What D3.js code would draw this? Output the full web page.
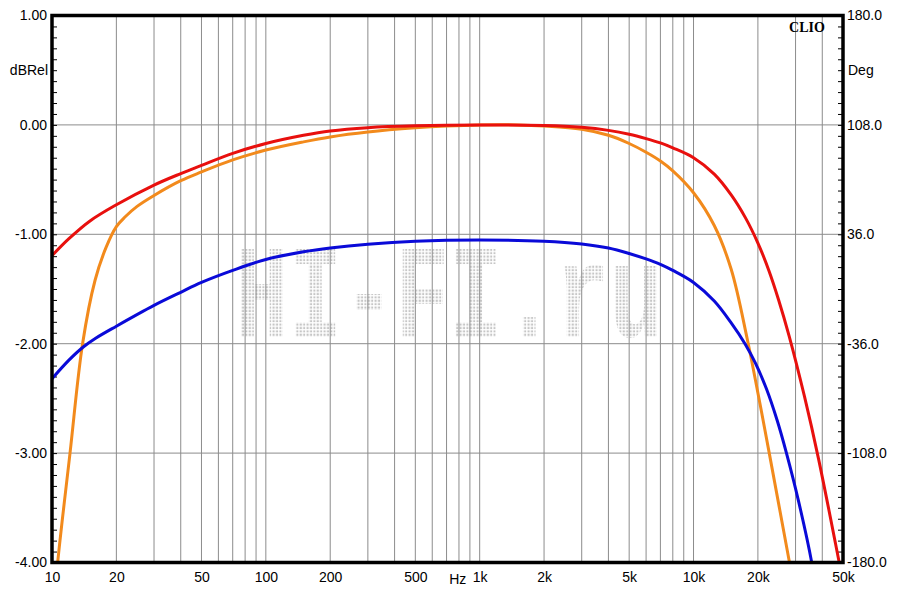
<!DOCTYPE html>
<html>
<head>
<meta charset="utf-8">
<script src="https://cdn.jsdelivr.net/npm/d3@7"></script>
<style>
  body { margin: 0; background: #fff; }
  text { font-family: "Liberation Sans", Arial, sans-serif; }
</style>
</head>
<body>
<div id="chart"></div>
<script>
// frequency response, three curves (dB rel. to 1 kHz)
let redFreq = [10, 12, 15, 20, 30, 40, 50, 70, 100, 150, 200, 300, 500, 1000, 2000, 3000, 4000, 5000, 6000, 7000, 8000, 10000, 12500, 15000, 17500, 20000, 22500, 25000, 28000, 33000, 38400, 48000, 52000];
let redDb   = [-1.195, -1.04, -0.88, -0.73, -0.55, -0.445, -0.37, -0.26, -0.17, -0.095, -0.055, -0.025, -0.008, 0, -0.005, -0.022, -0.05, -0.085, -0.125, -0.165, -0.21, -0.30, -0.45, -0.64, -0.85, -1.08, -1.33, -1.6, -1.93, -2.48, -3.05, -4.0, -4.35];

let orangeFreq = [10, 10.63, 12.14, 13.9, 15.9, 17.9, 20, 22, 25, 30, 40, 50, 70, 100, 150, 200, 300, 500, 700, 1000, 1500, 2000, 3000, 4000, 5000, 6000, 7000, 8000, 10000, 12500, 15000, 17800, 20000, 22600, 28100, 30000];
let orangeDb   = [-4.6, -4.0, -3.0, -2.0, -1.42, -1.12, -0.93, -0.84, -0.745, -0.645, -0.51, -0.43, -0.32, -0.23, -0.155, -0.11, -0.065, -0.027, -0.01, 0, 0, -0.01, -0.04, -0.095, -0.17, -0.25, -0.33, -0.42, -0.62, -0.92, -1.32, -1.95, -2.45, -3.0, -4.0, -4.3];

let blueFreq = [10, 12, 14, 16, 20, 30, 40, 50, 70, 100, 150, 200, 300, 500, 1000, 2000, 3000, 4000, 5000, 6000, 7000, 8000, 10000, 12500, 15000, 17400, 19500, 21900, 24600, 27200, 30900, 35700, 38000];
let blueDb   = [-2.32, -2.15, -2.03, -1.95, -1.84, -1.65, -1.53, -1.44, -1.33, -1.23, -1.16, -1.125, -1.09, -1.063, -1.052, -1.063, -1.088, -1.125, -1.175, -1.225, -1.275, -1.33, -1.44, -1.61, -1.81, -2.0, -2.18, -2.41, -2.70, -3.0, -3.43, -4.0, -4.35];

let dbTicks  = [1, 0, -1, -2, -3, -4];
let degTicks = [180, 108, 36, -36, -108, -180];
let freqLabels = [10, 20, 50, 100, 200, 500, 1000, 2000, 5000, 10000, 20000, 50000];
let freqGrid = [20, 30, 40, 50, 60, 70, 80, 90, 100, 200, 300, 400, 500, 600, 700, 800, 900, 1000, 2000, 3000, 4000, 5000, 6000, 7000, 8000, 9000, 10000, 20000, 30000, 40000];

let width = 900, height = 591;
let pLeft = 52, pRight = 843, pTop = 15.5, pBottom = 562.5;

let svg = d3.select("#chart").append("svg")
  .attr("width", width).attr("height", height);
svg.append("rect").attr("width", width).attr("height", height).attr("fill", "#fff");

let x = d3.scaleLog().domain([10, 50000]).range([pLeft, pRight]);
let y = d3.scaleLinear().domain([-4, 1]).range([pBottom, pTop]);
let yDeg = d3.scaleLinear().domain([-180, 180]).range([pBottom, pTop]);

// dotted watermark
let defs = svg.append("defs");
let pat = defs.append("pattern").attr("id", "dots")
  .attr("width", 3.4).attr("height", 3.4).attr("patternUnits", "userSpaceOnUse");
pat.append("rect").attr("x", 0.5).attr("y", 0.5).attr("width", 2.1).attr("height", 2.1).attr("fill", "#c6c6c6");
defs.append("clipPath").attr("id", "plotclip")
  .append("rect").attr("x", pLeft).attr("y", pTop).attr("width", pRight - pLeft).attr("height", pBottom - pTop);

svg.append("text").text("HI-FI.ru")
  .attr("x", 235).attr("y", 337)
  .attr("textLength", 428).attr("lengthAdjust", "spacingAndGlyphs")
  .style("font-family", "'Liberation Mono', 'DejaVu Sans Mono', monospace")
  .style("font-weight", "bold")
  .style("font-size", "134px")
  .attr("fill", "url(#dots)");

// grid
svg.append("g").selectAll("line").data(freqGrid).enter().append("line")
  .attr("x1", d => x(d)).attr("x2", d => x(d))
  .attr("y1", pTop).attr("y2", pBottom)
  .attr("stroke", "#8c8c8c").attr("stroke-width", 1);
svg.append("g").selectAll("line").data([0, -1, -2, -3]).enter().append("line")
  .attr("x1", pLeft).attr("x2", pRight)
  .attr("y1", d => y(d)).attr("y2", d => y(d))
  .attr("stroke", "#8c8c8c").attr("stroke-width", 1);

// minor ticks inside frame
let minor = d3.range(-40, 11).map(d => d / 10);
svg.append("g").attr("transform", "translate(" + pLeft + ",0)")
  .call(d3.axisRight(y).tickValues(minor).tickSize(5))
  .call(g => { g.select(".domain").remove(); g.selectAll("text").remove(); });
svg.append("g").attr("transform", "translate(" + pRight + ",0)")
  .call(d3.axisLeft(y).tickValues(minor).tickSize(5))
  .call(g => { g.select(".domain").remove(); g.selectAll("text").remove(); });

// curves
let line = d3.line().x(d => x(d[0])).y(d => y(d[1])).curve(d3.curveCatmullRom.alpha(0.5));
let curves = [
  [d3.zip(orangeFreq, orangeDb), "#f28a1c"],
  [d3.zip(blueFreq, blueDb), "#0a0ad8"],
  [d3.zip(redFreq, redDb), "#e8100e"]
];
let cg = svg.append("g").attr("clip-path", "url(#plotclip)");
curves.forEach(c => {
  cg.append("path").datum(c[0]).attr("d", line)
    .attr("fill", "none").attr("stroke", c[1]).attr("stroke-width", 3)
    .attr("stroke-linejoin", "round");
});

// frame
svg.append("rect").attr("x", pLeft).attr("y", pTop)
  .attr("width", pRight - pLeft).attr("height", pBottom - pTop)
  .attr("fill", "none").attr("stroke", "#000").attr("stroke-width", 3.5);

// axis labels
let leftAx = svg.append("g").attr("transform", "translate(" + (pLeft - 2) + ",0)")
  .call(d3.axisLeft(y).tickValues(dbTicks).tickSize(0).tickPadding(3).tickFormat(d => d.toFixed(2)));
leftAx.select(".domain").remove();
leftAx.selectAll("text").attr("font-size", 14).attr("fill", "#000").style("font-family", "Liberation Sans, Arial");

let rightAx = svg.append("g").attr("transform", "translate(" + (pRight + 2) + ",0)")
  .call(d3.axisRight(yDeg).tickValues(degTicks).tickSize(0).tickPadding(2).tickFormat(d => d.toFixed(1)));
rightAx.select(".domain").remove();
rightAx.selectAll("text").attr("font-size", 14).attr("fill", "#000").style("font-family", "Liberation Sans, Arial");

let fmtF = d => d >= 1000 ? (d / 1000) + "k" : String(d);
let botAx = svg.append("g").attr("transform", "translate(0," + (pBottom + 1) + ")")
  .call(d3.axisBottom(x).tickValues(freqLabels).tickSize(0).tickPadding(9).tickFormat(fmtF));
botAx.select(".domain").remove();
botAx.selectAll("text").attr("font-size", 14).attr("fill", "#000").style("font-family", "Liberation Sans, Arial");

svg.append("text").text("Hz").attr("x", x(790)).attr("y", 584)
  .attr("text-anchor", "middle").attr("font-size", 14);
svg.append("text").text("dBRel").attr("x", 48).attr("y", 75)
  .attr("text-anchor", "end").attr("font-size", 14);
svg.append("text").text("Deg").attr("x", 848).attr("y", 75)
  .attr("font-size", 14);
svg.append("text").text("CLIO").attr("x", 807).attr("y", 32)
  .attr("text-anchor", "middle").attr("font-size", 14)
  .style("font-family", "'Liberation Serif', 'Times New Roman', serif")
  .style("font-weight", "bold");
</script>
</body>
</html>
